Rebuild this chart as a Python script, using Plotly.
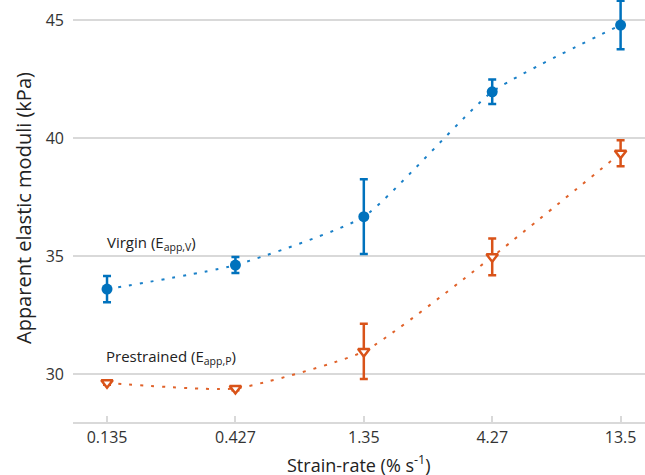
import plotly.graph_objects as go

rates = ["0.135", "0.427", "1.35", "4.27", "13.5"]
pos = [0, 1, 2, 3, 4]
virgin = [33.6, 34.62, 36.67, 41.96, 44.79]
virgin_err = [0.56, 0.34, 1.58, 0.52, 1.03]
prestrained = [29.63, 29.39, 30.96, 34.97, 39.36]
prestrained_err = [0.08, 0.08, 1.17, 0.78, 0.55]

blue = "#0072BD"
orange = "#D95319"
font = "Open Sans"

fig = go.Figure()
fig.add_trace(go.Scatter(
    x=pos, y=virgin, mode="lines",
    line=dict(color="#1a80c8", width=2, dash="3px,8px", shape="spline", smoothing=0.5),
    hoverinfo="skip", showlegend=False))
fig.add_trace(go.Scatter(
    x=pos, y=prestrained, mode="lines",
    line=dict(color="#e0622a", width=2, dash="3px,8px", shape="spline", smoothing=0.5),
    hoverinfo="skip", showlegend=False))
fig.add_trace(go.Scatter(
    x=pos, y=virgin, mode="markers",
    marker=dict(color=blue, size=11, symbol="circle"),
    error_y=dict(type="data", array=virgin_err, color=blue, thickness=2.5, width=4),
    showlegend=False))
fig.add_trace(go.Scatter(
    x=pos, y=prestrained, mode="markers",
    marker=dict(color="white", size=10, symbol="triangle-down", line=dict(color=orange, width=2.5)),
    error_y=dict(type="data", array=prestrained_err, color=orange, thickness=2.5, width=4),
    showlegend=False))

fig.add_annotation(x=0, y=35.0, xref="x", yref="y", text="Virgin (E<sub>app,V</sub>)",
                   showarrow=False, xanchor="left", yanchor="bottom", xshift=-2, yshift=0,
                   font=dict(family=font, size=15, color="#222"))
fig.add_annotation(x=0, y=30.0, xref="x", yref="y", text="Prestrained (E<sub>app,P</sub>)",
                   showarrow=False, xanchor="left", yanchor="bottom", xshift=-3, yshift=4,
                   font=dict(family=font, size=15, color="#222"))

# axis titles
fig.add_annotation(x=0.5, y=0, xref="paper", yref="paper", text="Strain-rate (% s<sup>-1</sup>)",
                   showarrow=False, xanchor="center", yanchor="middle", yshift=-42, xshift=0,
                   font=dict(family=font, size=18, color="#222"))
fig.add_annotation(x=0, y=0.5, xref="paper", yref="paper", text="Apparent elastic moduli (kPa)",
                   showarrow=False, textangle=-90, xanchor="center", yanchor="middle",
                   xshift=-50, yshift=3,
                   font=dict(family=font, size=20, color="#222"))

fig.update_layout(
    width=645, height=475,
    margin=dict(l=73, r=0, t=0, b=53),
    plot_bgcolor="white", paper_bgcolor="white",
    font=dict(family=font, size=16, color="#333"),
    xaxis=dict(
        range=[-0.265, 4.19], tickmode="array", tickvals=pos, ticktext=rates,
        showgrid=False, zeroline=False, showline=True, linecolor="#d9d9d9", linewidth=2,
        ticks="inside", ticklen=6, tickwidth=2, tickcolor="#d9d9d9",
        tickfont=dict(family=font, size=16, color="#333"), automargin=False,
    ),
    yaxis=dict(
        range=[27.97, 45.85], tickvals=[30, 35, 40, 45],
        showgrid=True, gridcolor="#d9d9d9", gridwidth=1.5, zeroline=False, showline=False,
        ticks="", ticklabelstandoff=8, automargin=False,
        tickfont=dict(family=font, size=16, color="#333"),
    ),
)

fig.write_html("out.html", config={"displayModeBar": False})
with open("out.html", encoding="utf-8") as f:
    html = f.read()
html = html.replace("<head>", "<head><style>html,body{margin:0;padding:0;overflow:hidden;}</style>", 1)
with open("out.html", "w", encoding="utf-8") as f:
    f.write(html)
